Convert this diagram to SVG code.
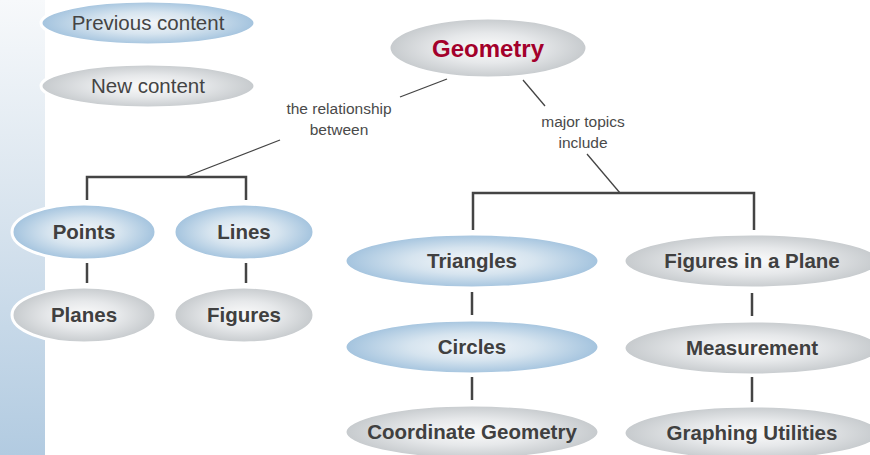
<svg xmlns="http://www.w3.org/2000/svg" width="870" height="455" viewBox="0 0 870 455">
<defs>
<linearGradient id="side" x1="0" y1="0" x2="0" y2="1">
<stop offset="0" stop-color="#f7f9fb"/>
<stop offset="0.4" stop-color="#dde7f0"/>
<stop offset="1" stop-color="#b2cbe1"/>
</linearGradient>
<radialGradient id="blue" cx="0.5" cy="0.5" r="0.5">
<stop offset="0" stop-color="#f4f7fa"/>
<stop offset="0.5" stop-color="#d6e4ef"/>
<stop offset="1" stop-color="#a3c3de"/>
</radialGradient>
<radialGradient id="gray" cx="0.5" cy="0.5" r="0.5">
<stop offset="0" stop-color="#fbfbfb"/>
<stop offset="0.5" stop-color="#e6e8ea"/>
<stop offset="1" stop-color="#c6cacd"/>
</radialGradient>
</defs>
<style>
.b{fill:url(#blue);stroke:#fff;stroke-width:3}
.g{fill:url(#gray);stroke:#fff;stroke-width:3}
.t{font-family:"Liberation Sans",Arial,sans-serif;font-size:20.5px;font-weight:bold;fill:#404040;text-anchor:middle}
.lg{font-family:"Liberation Sans",Arial,sans-serif;font-size:20.5px;fill:#444;text-anchor:middle}
.lb{font-family:"Liberation Sans",Arial,sans-serif;font-size:15.5px;fill:#4a4a4a;text-anchor:middle}
.c{stroke:#444;stroke-width:2.5;fill:none}
.d{stroke:#444;stroke-width:1.3;fill:none}
</style>
<rect x="0" y="0" width="870" height="455" fill="#fff"/>
<rect x="0" y="0" width="45" height="455" fill="url(#side)"/>

<g id="connectors">
<line class="d" x1="447" y1="79" x2="400" y2="97"/>
<line class="d" x1="280" y1="140" x2="185" y2="177"/>
<polyline class="c" points="87,200 87,177 246,177 246,200"/>
<line class="c" x1="87" y1="263" x2="87" y2="283"/>
<line class="c" x1="246" y1="263" x2="246" y2="283"/>
<line class="d" x1="523" y1="80" x2="545" y2="106"/>
<line class="d" x1="587" y1="154" x2="620" y2="193"/>
<polyline class="c" points="473,230 473,193 754,193 754,230"/>
<line class="c" x1="472" y1="292" x2="472" y2="315"/>
<line class="c" x1="472" y1="377" x2="472" y2="400"/>
<line class="c" x1="752" y1="293" x2="752" y2="316"/>
<line class="c" x1="752" y1="377" x2="752" y2="402"/>
</g>

<g id="legend-previous">
<ellipse class="b" cx="148" cy="23" rx="107" ry="22"/>
<text class="lg" x="148" y="30">Previous content</text>
</g>
<g id="legend-new">
<ellipse class="g" cx="148" cy="86" rx="107" ry="22"/>
<text class="lg" x="148" y="93">New content</text>
</g>

<g id="geometry">
<ellipse class="g" cx="488" cy="48" rx="99" ry="30"/>
<text class="t" x="488" y="57" style="font-size:24px;fill:#a3002b">Geometry</text>
</g>

<g id="label-relationship">
<text class="lb" x="339" y="114">the relationship</text>
<text class="lb" x="339" y="135">between</text>
</g>
<g id="label-topics">
<text class="lb" x="583" y="127">major topics</text>
<text class="lb" x="583" y="148">include</text>
</g>

<g id="points">
<ellipse class="b" cx="84" cy="232" rx="72" ry="28"/>
<text class="t" x="84" y="239">Points</text>
</g>
<g id="lines">
<ellipse class="b" cx="244" cy="232" rx="70" ry="28"/>
<text class="t" x="244" y="239">Lines</text>
</g>
<g id="planes">
<ellipse class="g" cx="84" cy="315" rx="72" ry="28"/>
<text class="t" x="84" y="322">Planes</text>
</g>
<g id="figures">
<ellipse class="g" cx="244" cy="315" rx="70" ry="28"/>
<text class="t" x="244" y="322">Figures</text>
</g>

<g id="triangles">
<ellipse class="b" cx="472" cy="261" rx="127" ry="27"/>
<text class="t" x="472" y="268">Triangles</text>
</g>
<g id="circles">
<ellipse class="b" cx="472" cy="347" rx="127" ry="27"/>
<text class="t" x="472" y="354">Circles</text>
</g>
<g id="coordinate-geometry">
<ellipse class="g" cx="472" cy="432" rx="127" ry="27"/>
<text class="t" x="472" y="439">Coordinate Geometry</text>
</g>
<g id="figures-in-a-plane">
<ellipse class="g" cx="752" cy="261" rx="128" ry="27"/>
<text class="t" x="752" y="268">Figures in a Plane</text>
</g>
<g id="measurement">
<ellipse class="g" cx="752" cy="348" rx="128" ry="27"/>
<text class="t" x="752" y="355">Measurement</text>
</g>
<g id="graphing-utilities">
<ellipse class="g" cx="752" cy="433" rx="128" ry="27"/>
<text class="t" x="752" y="440">Graphing Utilities</text>
</g>
</svg>
